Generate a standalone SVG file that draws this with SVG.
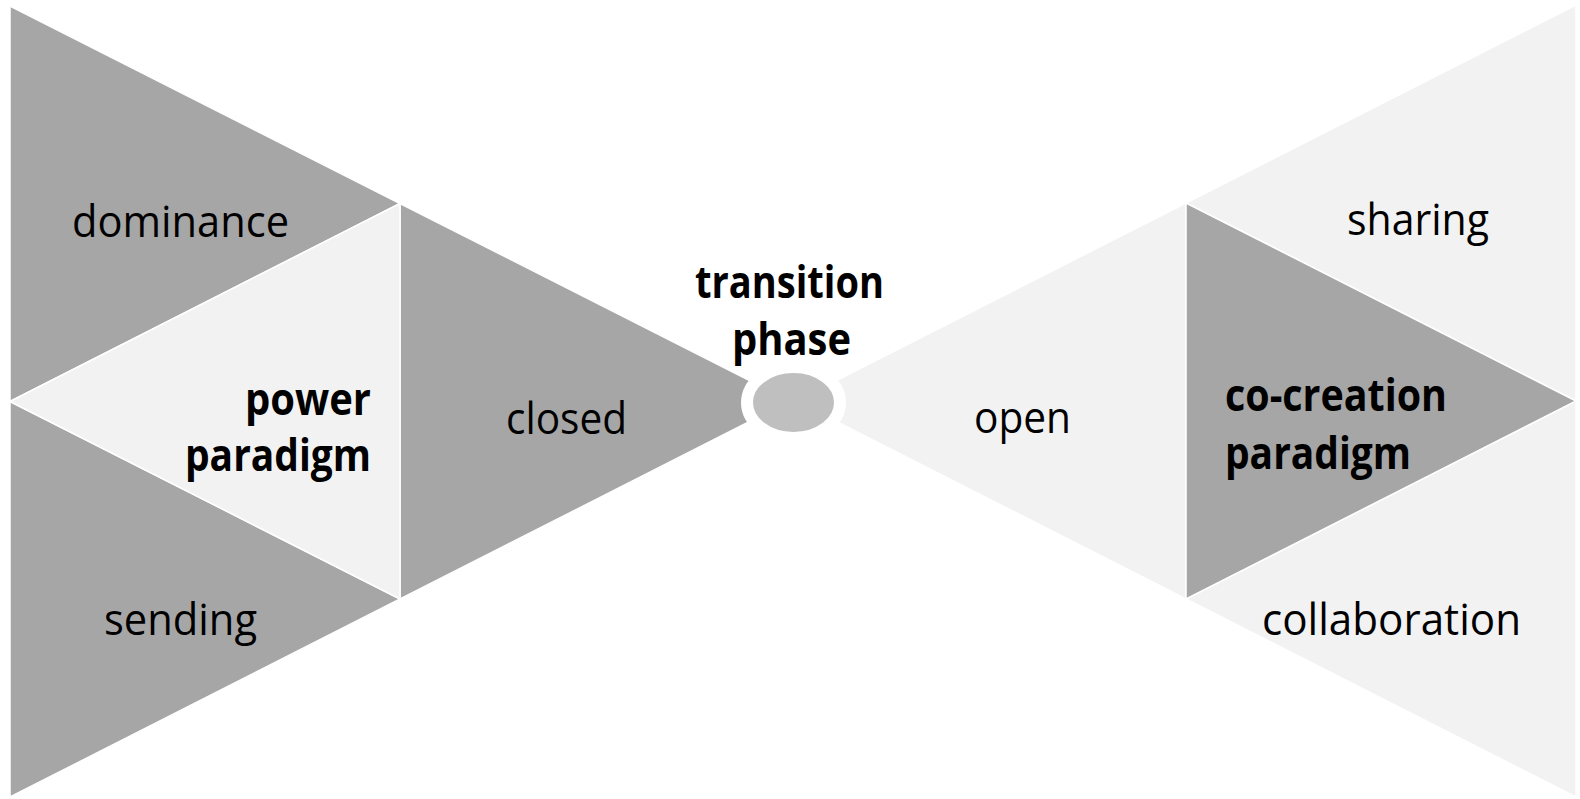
<svg xmlns="http://www.w3.org/2000/svg" width="1580" height="799" viewBox="0 0 1580 799">
  <style>
    .dark { fill: #a6a6a6; stroke: #ffffff; stroke-width: 1.5; stroke-linejoin: miter; }
    .light { fill: #f2f2f2; stroke: #ffffff; stroke-width: 1.5; stroke-linejoin: miter; }
    .lbl { font-family: "Open Sans", "Noto Sans", "Liberation Sans", sans-serif; font-size: 44px; fill: #000000; }
    .bold { font-weight: 700; }
  </style>
  <rect width="1580" height="799" fill="#ffffff"/>

  <!-- left half: power paradigm -->
  <g id="dominance">
    <polygon class="dark" points="10,6 400,203.5 10,401.5"/>
    <text class="lbl" x="72" y="237" textLength="217" lengthAdjust="spacingAndGlyphs">dominance</text>
  </g>
  <g id="sending">
    <polygon class="dark" points="10,401.5 400,599 10,797"/>
    <text class="lbl" x="104" y="635" textLength="153" lengthAdjust="spacingAndGlyphs">sending</text>
  </g>
  <g id="closed">
    <polygon class="dark" points="400,203.5 790,401 400,599"/>
    <text class="lbl" x="506" y="434" textLength="121" lengthAdjust="spacingAndGlyphs">closed</text>
  </g>
  <g id="power-paradigm">
    <polygon class="light" points="10,401.5 400,203.5 400,599"/>
    <text class="lbl bold" x="245" y="415" textLength="126" lengthAdjust="spacingAndGlyphs">power</text>
    <text class="lbl bold" x="185" y="471" textLength="186" lengthAdjust="spacingAndGlyphs">paradigm</text>
  </g>

  <!-- right half: co-creation paradigm -->
  <g id="sharing">
    <polygon class="light" points="1576,5 1576,401 1186,203"/>
    <text class="lbl" x="1347" y="235" textLength="142" lengthAdjust="spacingAndGlyphs">sharing</text>
  </g>
  <g id="collaboration">
    <polygon class="light" points="1576,401 1576,797 1186,599"/>
    <text class="lbl" x="1262" y="635" textLength="259" lengthAdjust="spacingAndGlyphs">collaboration</text>
  </g>
  <g id="open">
    <polygon class="light" points="1186,203 1186,599 796,401"/>
    <text class="lbl" x="974" y="433" textLength="97" lengthAdjust="spacingAndGlyphs">open</text>
  </g>
  <g id="co-creation-paradigm">
    <polygon class="dark" points="1186,203 1576,401 1186,599"/>
    <text class="lbl bold" x="1225" y="411" textLength="222" lengthAdjust="spacingAndGlyphs">co-creation</text>
    <text class="lbl bold" x="1225" y="469" textLength="186" lengthAdjust="spacingAndGlyphs">paradigm</text>
  </g>

  <!-- centre: transition phase -->
  <g id="transition-phase">
    <ellipse cx="793.5" cy="402.5" rx="46.5" ry="35.5" fill="#bfbfbf" stroke="#ffffff" stroke-width="12"/>
    <text class="lbl bold" x="695" y="298" textLength="189" lengthAdjust="spacingAndGlyphs">transition</text>
    <text class="lbl bold" x="732" y="355" textLength="119" lengthAdjust="spacingAndGlyphs">phase</text>
  </g>
</svg>
